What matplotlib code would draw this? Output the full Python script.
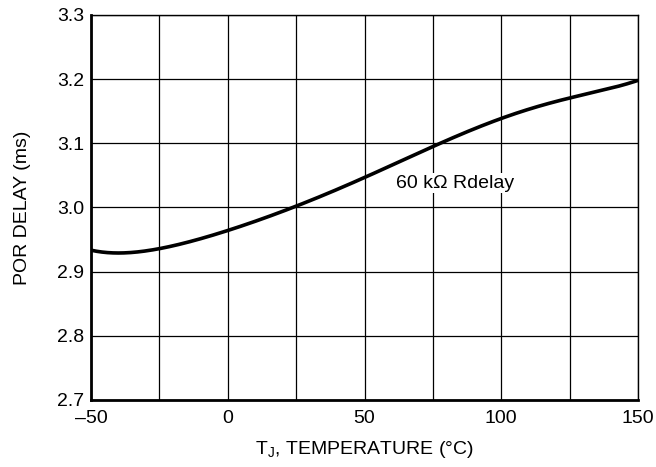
import numpy as np
import matplotlib.pyplot as plt
from matplotlib.ticker import MultipleLocator, FuncFormatter

plt.rcParams["font.family"] = ["Liberation Sans", "DejaVu Sans"]
plt.rcParams["mathtext.fontset"] = "custom"
plt.rcParams["mathtext.rm"] = "Liberation Sans"

# values
temp = [-50, -45, -40, -35, -25, -10, 0, 10, 25, 40, 50, 60, 75, 90, 100, 110, 125, 140, 150]
delay = [2.935, 2.929, 2.928, 2.929, 2.937, 2.952, 2.965, 2.979, 3.000, 3.027, 3.046, 3.067,
         3.098, 3.123, 3.137, 3.151, 3.171, 3.188, 3.197]

fig = plt.figure(figsize=(6.56, 4.67), dpi=100)
ax = fig.add_axes([0.1387, 0.1435, 0.8339, 0.8244])

# smooth the curve through the read points
xs = np.linspace(-50, 150, 400)
coef = np.polyfit(temp, delay, 6)
ax.plot(xs, np.polyval(coef, xs), color="black", lw=2.6, solid_capstyle="butt", zorder=3)

ax.set_xlim(-50, 150)
ax.set_ylim(2.7, 3.3)
ax.xaxis.set_major_locator(MultipleLocator(50))
ax.xaxis.set_minor_locator(MultipleLocator(25))
ax.yaxis.set_major_locator(MultipleLocator(0.1))
ax.xaxis.set_major_formatter(FuncFormatter(lambda v, p: f"{v:.0f}".replace("-", "\u2013")))
ax.yaxis.set_major_formatter(FuncFormatter(lambda v, p: f"{v:.1f}"))
ax.grid(which="both", color="black", lw=0.9)
ax.tick_params(which="both", length=0, labelsize=14)
ax.tick_params(axis="x", pad=7)
ax.tick_params(axis="y", pad=5)

for side in ["left", "bottom"]:
    ax.spines[side].set_linewidth(2)
for side in ["top", "right"]:
    ax.spines[side].set_linewidth(1)

ax.text(61.5, 3.038, "60 k\u03a9 Rdelay", fontsize=14, va="center", ha="left",
        bbox=dict(facecolor="white", edgecolor="none", pad=1), zorder=4)

ax.set_xlabel(r"T$_\mathregular{J}$, TEMPERATURE (°C)", fontsize=14, labelpad=9)
ax.set_ylabel("POR DELAY (ms)", fontsize=14, labelpad=19)

fig.savefig("out.png", dpi=100)
